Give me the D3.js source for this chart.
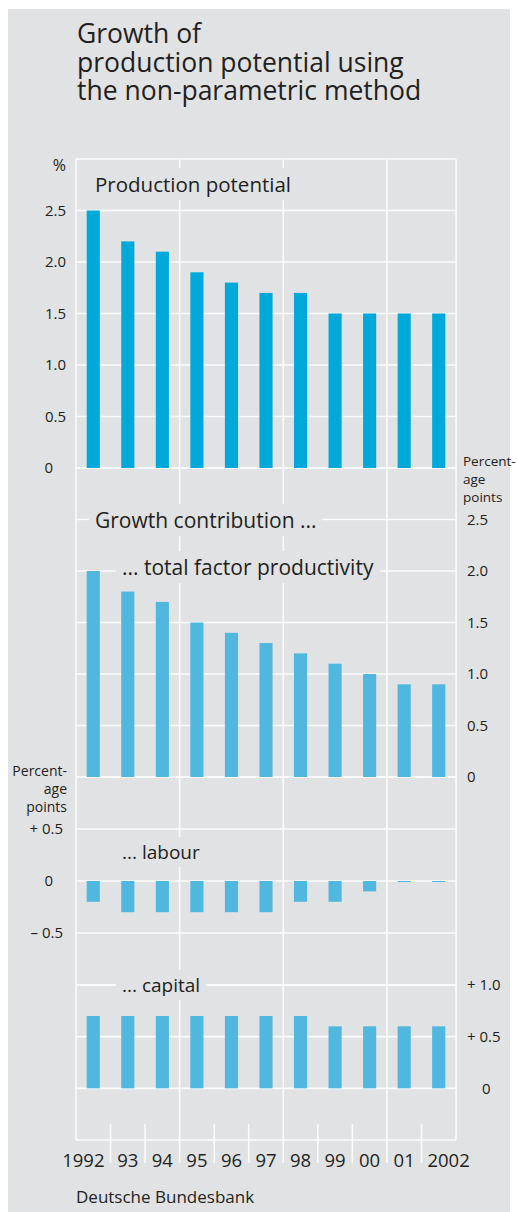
<!DOCTYPE html>
<html lang="en">
<head>
<meta charset="utf-8" />
<title>Growth of production potential</title>
<script src="https://cdnjs.cloudflare.com/ajax/libs/d3/7.8.5/d3.min.js"></script>
<style>
  body { margin: 0; background: #fff; }
  svg text { font-family: "Open Sans", "Noto Sans", sans-serif; fill: #231f20; }
</style>
</head>
<body>
<div id="chart"></div>
<script>
// data
var years = ["1992", "93", "94", "95", "96", "97", "98", "99", "00", "01", "2002"];
var potential = [2.5, 2.2, 2.1, 1.9, 1.8, 1.7, 1.7, 1.5, 1.5, 1.5, 1.5];
var tfp = [2.0, 1.8, 1.7, 1.5, 1.4, 1.3, 1.2, 1.1, 1.0, 0.9, 0.9];
var labour = [-0.2, -0.3, -0.3, -0.3, -0.3, -0.3, -0.2, -0.2, -0.1, -0.01, -0.01];
var capital = [0.7, 0.7, 0.7, 0.7, 0.7, 0.7, 0.7, 0.6, 0.6, 0.6, 0.6];

var potentialTicks = [0, 0.5, 1.0, 1.5, 2.0, 2.5];
var tfpTicks = [0, 0.5, 1.0, 1.5, 2.0, 2.5];
var labourTicks = [0.5, 0, -0.5];
var capitalTicks = [1.0, 0.5, 0];

var W = 517, H = 1212;
var left = 76, right = 456;

var svg = d3.select("#chart").append("svg")
    .attr("width", W).attr("height", H);

svg.append("rect").attr("x", 8).attr("y", 9)
    .attr("width", 502).attr("height", H - 9).attr("fill", "#e1e2e4");

// title
var title = ["Growth of", "production potential using", "the non-parametric method"];
svg.append("g").selectAll("text").data(title).enter().append("text")
    .attr("x", 77).attr("y", function (d, i) { return 43 + i * 28.5; })
    .attr("font-size", "26.5px")
    .text(function (d) { return d; });

// x scales
var x = d3.scaleBand().domain(years).range([left, right])
    .paddingInner(0.62).paddingOuter(0.31);
var xCell = d3.scaleBand().domain(years).range([left, right]);

// y scales, one per panel, same unit size
var yTop = d3.scaleLinear().domain([0, 3]).range([468, 159]);
var yTfp = d3.scaleLinear().domain([0, 3]).range([777, 468]);
var yLab = d3.scaleLinear().domain([-1, 1]).range([985, 777]);
var yCap = d3.scaleLinear().domain([-0.5, 1]).range([1140, 985]);

var grid = svg.append("g").attr("stroke", "#fbfbfb").attr("stroke-width", 1.6);

function hLines(y, step) {
    var d = y.domain();
    var vals = d3.range(d[0], d[1] + 1e-6, step);
    grid.append("g").selectAll("line").data(vals).enter().append("line")
        .attr("x1", left).attr("x2", right)
        .attr("y1", function (v) { return y(v); })
        .attr("y2", function (v) { return y(v); });
}
hLines(yTop, 0.5);
hLines(yTfp, 0.5);
hLines(yLab, 0.5);
hLines(yCap, 0.5);

// vertical lines
var bounds = d3.range(0, years.length + 1);
function bx(i) { return i < years.length ? xCell(years[i]) : right; }
grid.append("g").selectAll("line").data(bounds).enter().append("line")
    .attr("x1", function (i) { return bx(i); })
    .attr("x2", function (i) { return bx(i); })
    .attr("y1", function (i) { return (i % 3 === 0 || i === years.length) ? 159 : 1124; })
    .attr("y2", function (i) { return (i === 0 || i === years.length) ? 1140 : 1163; });

// bars
function bars(vals, y, color) {
    svg.append("g").selectAll("rect").data(vals).enter().append("rect")
        .attr("x", function (d, i) { return x(years[i]); })
        .attr("width", x.bandwidth())
        .attr("y", function (d) { return Math.min(y(d), y(0)); })
        .attr("height", function (d) { return Math.max(1, Math.abs(y(d) - y(0))); })
        .attr("fill", color);
}
bars(potential, yTop, "#00a9d9");
bars(tfp, yTfp, "#50b7de");
bars(labour, yLab, "#50b7de");
bars(capital, yCap, "#50b7de");

// labels with gray box behind
function label(txt, lx, ly, size) {
    var g = svg.append("g");
    var r = g.append("rect").attr("fill", "#e1e2e4");
    var t = g.append("text").attr("x", lx).attr("y", ly)
        .attr("font-size", size).text(txt);
    var b = t.node().getBBox();
    r.attr("x", b.x - 6).attr("y", b.y - 2)
        .attr("width", b.width + 12).attr("height", b.height + 4);
}
label("Production potential", 95, 192, "20.5px");
label("Growth contribution ...", 95, 528, "21px");
label("... total factor productivity", 122, 575, "21px");
label("... labour", 122, 859, "19px");
label("... capital", 122, 992, "19px");

// tick labels
function fmt(v, signed) {
    if (v === 0) return "0";
    var s = Math.abs(v).toFixed(1);
    if (!signed) return s;
    return (v > 0 ? "+ " : "\u2013 ") + s;
}
function axisLabels(vals, y, side, signed, xNum, xZero) {
    svg.append("g").selectAll("text").data(vals).enter().append("text")
        .attr("x", function (v) { return v === 0 ? xZero : xNum; })
        .attr("y", function (v) { return y(v); })
        .attr("dy", "0.36em")
        .attr("font-size", "15px")
        .attr("text-anchor", side === "left" ? "end" : "start")
        .text(function (v) { return fmt(v, signed); });
}
axisLabels(potentialTicks, yTop, "left", false, 66, 53);
axisLabels(tfpTicks, yTfp, "right", false, 467, 467);
axisLabels(labourTicks, yLab, "left", true, 63, 53);
axisLabels(capitalTicks, yCap, "right", true, 467, 482);

// units
svg.append("text").attr("x", 66).attr("y", 171).attr("font-size", "16px")
    .attr("text-anchor", "end").text("%");
var unitLines = ["Percent-", "age", "points"];
svg.append("g").selectAll("text").data(unitLines).enter().append("text")
    .attr("x", 463).attr("y", function (d, i) { return 466 + i * 18; })
    .attr("font-size", "13.5px").text(function (d) { return d; });
svg.append("g").selectAll("text").data(unitLines).enter().append("text")
    .attr("x", 67).attr("y", function (d, i) { return 776 + i * 18; })
    .attr("font-size", "14px").attr("text-anchor", "end").text(function (d) { return d; });

// year labels: first right-aligned, last left-aligned, others centred
var last = years.length - 1;
svg.append("g").selectAll("text").data(years).enter().append("text")
    .attr("x", function (d, i) {
        if (i === 0) return xCell(d) + xCell.bandwidth() - 6;
        if (i === last) return xCell(d) + 6;
        return xCell(d) + xCell.bandwidth() / 2;
    })
    .attr("y", 1167)
    .attr("font-size", "18.5px")
    .attr("text-anchor", function (d, i) { return i === 0 ? "end" : (i === last ? "start" : "middle"); })
    .text(function (d) { return d; });

svg.append("text").attr("x", 76).attr("y", 1203).attr("font-size", "17px")
    .text("Deutsche Bundesbank");
</script>
</body>
</html>
